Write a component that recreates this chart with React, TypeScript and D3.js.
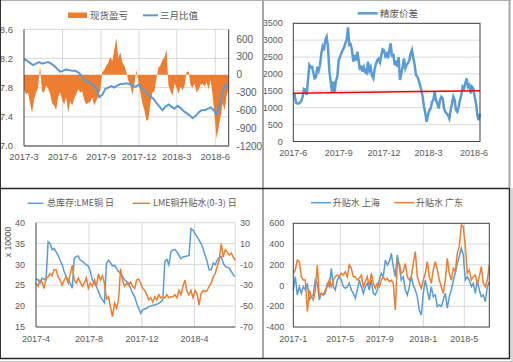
import * as d3 from "d3";

const BLUE = "#5B9BD5";
const ORANGE = "#ED7D31";
const GRID = "#D9D9D9";
const AXIS = "#404040";
const TEXT = "#595959";
const FONT = "'Liberation Sans', 'Noto Sans CJK SC', sans-serif";
const CJK = "'Noto Sans CJK SC', sans-serif";

// ---- top-left: 现货盈亏 / 三月比值
const spotPnl = [
  -250, -330, -300, -480, -640, -420, -300, -220, 150, -280,
  -300, -180, -230, -320, -480, -520, -600, -380, -300, -420,
  -500, -380, -640, -450, -520, -400, -330, -240, -300, -280,
  -420, -500, -470, -460, -380, -520, -440, -360, -260, 40,
  80, 150, 200, 300, 230, 420, 620, 280, 380, 200,
  150, 50, -100, -180, -340, -150, 80, -120, -300, -480,
  -600, -780, -750, -480, -300, -280, -60, 120, 160, 250,
  300, 430, -180, -280, -360, -150, -220, -320, -200, -260,
  -180, 40, 60, -180, -220, -150, -300, -250, -170, -150,
  -200, -130, -250, -80, -350, -700, -1080, -880, -700, -480,
  -600, -350, -230,
];
const ratio3m = [
  8.19, 8.17, 8.14, 8.11, 8.13, 8.15, 8.13, 8.14, 8.15, 8.13,
  8.1, 8.06, 8.02, 8.03, 8.05, 8.04, 8.03, 8.03, 8.01, 7.97,
  7.91, 7.88, 7.86, 7.83, 7.79, 7.67, 7.7, 7.78, 7.8, 7.82,
  7.8, 7.83, 7.85, 7.85, 7.86, 7.85, 7.83, 7.81, 7.84, 7.8,
  7.76, 7.71, 7.68, 7.65, 7.59, 7.54, 7.49, 7.54, 7.57, 7.54,
  7.51, 7.55, 7.52, 7.48, 7.45, 7.42, 7.38, 7.41, 7.46, 7.49,
  7.49, 7.51, 7.53, 7.49, 7.44, 7.56, 7.76, 7.84, 7.79,
];
const p1Dates = [new Date(2017, 2, 1), new Date(2018, 6, 3)];
const p1Ticks = [
  new Date(2017, 2, 1), new Date(2017, 5, 1), new Date(2017, 8, 1),
  new Date(2017, 11, 1), new Date(2018, 2, 1), new Date(2018, 5, 1),
];
const p1LeftTicks = [7.0, 7.4, 7.8, 8.2, 8.6];
const p1RightTicks = [-1200, -900, -600, -300, 0, 300, 600];

// ---- top-right: 精废价差
const scrapSpread = [
  1424, 1380, 1150, 1127, 1127, 1150, 1200, 1325, 1560, 1540,
  1380, 1800, 2264, 2200, 2215, 2050, 1870, 1900, 2215, 2100,
  2260, 2610, 2808, 2700, 3006, 3100, 2800, 2116, 1770, 1473,
  1770, 1473, 1800, 1918, 2412, 2500, 2610, 2700, 2780, 2907,
  3006, 3380, 2857, 2880, 2709, 2363, 2560, 2400, 2659, 2400,
  2116, 2250, 2066, 2200, 2050, 2017, 2363, 2100, 2200, 1950,
  1869, 2150, 2300, 2412, 2450, 2350, 2560, 2728, 2700, 2531,
  2600, 2461, 2700, 2907, 2500, 2600, 2264, 2400, 2215, 2500,
  1820, 2017, 2215, 2461, 2170, 2270, 2320, 2400, 2610, 2709,
  2461, 2270, 1968, 1920, 1820, 1671, 1523, 1325, 1028, 830,
  583, 781, 929, 980, 1177, 1226, 1473, 1226, 1127, 979,
  1226, 1325, 1280, 979, 880, 830, 781, 682, 929, 1127,
  1325, 1226, 929, 880, 1028, 1226, 1374, 1622, 1572, 1721,
  1869, 1622, 1671, 1424, 1622, 1572, 1325, 1127, 781, 633,
  830,
];
const scrapTrend = [1430, 1505];
const p2Dates = [new Date(2017, 5, 1), new Date(2018, 5, 13)];
const p2Ticks = [
  new Date(2017, 5, 1), new Date(2017, 8, 1), new Date(2017, 11, 1),
  new Date(2018, 2, 1), new Date(2018, 5, 1),
];
const p2YTicks = [0, 500, 1000, 1500, 2000, 2500, 3000, 3500];

// ---- bottom-left: 总库存:LME铜 / LME铜升贴水(0-3)
const lmeStock = [
  26.6, 26.3, 25.5, 26.7, 26.5, 26.3, 35.4, 35.0, 33.5, 33.8,
  33.0, 32.2, 31.0, 29.9, 28.3, 27.1, 26.3, 25.5, 24.3, 31.4,
  31.9, 32.0, 31.0, 30.8, 30.3, 29.9, 29.6, 28.3, 26.3, 25.5,
  24.7, 23.5, 22.3, 21.5, 20.8, 30.3, 31.0, 30.4, 29.6, 29.8,
  29.0, 28.3, 27.9, 27.1, 26.3, 25.9, 25.5, 24.3, 23.1, 22.3,
  20.7, 19.5, 18.3, 19.1, 19.3, 19.5, 19.9, 20.0, 20.2, 20.2,
  20.5, 20.7, 21.0, 21.5, 30.7, 31.2, 29.9, 33.0, 33.5, 33.6,
  33.0, 32.2, 31.4, 31.8, 31.9, 32.0, 32.2, 38.6, 38.2, 37.4,
  36.6, 35.8, 35.0, 33.8, 32.2, 30.7, 28.7, 28.7, 30.3, 29.9,
  31.0, 31.7, 31.9, 30.3, 29.5, 29.3, 29.1, 28.3, 27.5, 27.1,
];
const lmeSpread = [
  -28, -31, -25, -27, -33, -23, -22, -19, -21, -15,
  -15, -22, -25, -30, -25, -22, -28, -19, -11, -25,
  -28, -23, -27, -31, -28, -23, -33, -28, -31, -25,
  -31, -19, -25, -21, -28, -43, -41, -51, -60, -47,
  -52, -44, -14, -25, -31, -28, -30, -27, -31, -33,
  -25, -24, -28, -33, -35, -39, -44, -42, -46, -41,
  -44, -39, -42, -41, -42, -39, -42, -41, -41, -39,
  -42, -35, -39, -31, -25, -36, -39, -35, -42, -35,
  -38, -49, -38, -35, -36, -35, -31, -28, -22, -19,
  -12, -6, 10, -3, 4, 2, -1, 1, -3, -6,
];
const p3Dates = [new Date(2017, 3, 1), new Date(2018, 6, 4)];
const p3Ticks = [
  new Date(2017, 3, 1), new Date(2017, 7, 1), new Date(2017, 11, 1), new Date(2018, 3, 1),
];
const p3LeftTicks = [15, 20, 25, 30, 35, 40];
const p3RightTicks = [-70, -50, -30, -10, 10, 30];

// ---- bottom-right: 升贴水 上海 / 广东
const premShanghai = [
  -43, 85, -91, -11, -75, -11, -43, 21, -139, -107,
  -91, 53, 21, -139, -75, -91, -75, 21, -11, 166,
  -11, -43, 53, 85, 53, -11, -27, -11, 21, -43,
  -75, -123, -43, 53, -11, -75, -11, 21, -43, 53,
  -75, -91, -43, 53, 118, 85, 246, 198, 230, 310,
  182, 85, 295, 182, 53, 85, -43, -91, -11, 85,
  5, -43, -107, -236, -284, -75, 53, -43, -139, -11,
  -107, -91, -203, -187, -203, -139, -75, -219, -107, -43,
  53, 118, 214, 279, 359, 295, 53, 85, 53, -11,
  21, -75, 53, -43, -107, -91, -155, -11, 37,
];
const premGuangdong = [
  118, 150, 246, 230, 85, 53, 53, -250, -43, -107,
  -139, -43, 198, -107, -75, -91, -43, -11, 53, -11,
  53, 85, 101, 85, 118, 101, 134, 85, 198, 166,
  85, 85, 53, 69, 101, -11, 37, 85, -11, 118,
  21, -27, 21, -11, 53, 85, 53, 69, 37, 53,
  21, -236, 230, 214, 118, 134, 214, 85, 53, 85,
  214, 327, 85, 21, -27, 53, 118, 230, 85, 21,
  150, 230, 150, 53, -11, -75, 53, 262, 118, 53,
  166, 134, 310, 375, 584, 568, 375, 118, 150, 53,
  85, 101, 21, 85, 182, 21, -11, 53, 198,
];
const p4TickLabels = ["2017-1", "2017-5", "2017-9", "2018-1", "2018-5"];
const p4TickIdx = [0, 23.5, 43.2, 65, 85.5];
const p4YTicks = [-400, -200, 0, 200, 400, 600];

type Pt = { d: Date; v: number };

const fmt = d3.timeFormat("%Y-%-m");

function spread(vals: number[], range: Date[]): Pt[] {
  const a = +range[0];
  const b = +range[1];
  return vals.map((v, i) => ({ d: new Date(a + ((b - a) * i) / (vals.length - 1)), v }));
}

export default function App() {
  // panel 1
  const x1 = d3.scaleTime().domain(p1Dates).range([24, 228.7]);
  const yL1 = d3.scaleLinear().domain([7.0, 8.6]).range([146, 29.3]);
  const yR1 = d3.scaleLinear().domain([-1200, 765]).range([146, 29.3]);
  const spotArea = d3
    .area<Pt>()
    .x((d) => x1(d.d))
    .y0(yR1(0))
    .y1((d) => yR1(d.v))(spread(spotPnl, p1Dates));
  const ratioLine = d3
    .line<Pt>()
    .x((d) => x1(d.d))
    .y((d) => yL1(d.v))(spread(ratio3m, p1Dates));

  // panel 2
  const x2 = d3.scaleTime().domain(p2Dates).range([293.3, 480]);
  const y2 = d3.scaleLinear().domain([0, 3500]).range([141.5, 23.3]);
  const line2 = d3
    .line<Pt>()
    .x((d) => x2(d.d))
    .y((d) => y2(d.v));

  // panel 3
  const x3 = d3.scaleTime().domain(p3Dates).range([36, 235.3]);
  const yL3 = d3.scaleLinear().domain([15, 40]).range([327, 222.7]);
  const yR3 = d3.scaleLinear().domain([-70, 30]).range([327, 222.7]);
  const stockLine = d3
    .line<Pt>()
    .x((d) => x3(d.d))
    .y((d) => yL3(d.v))(spread(lmeStock, p3Dates));
  const spreadLine = d3
    .line<Pt>()
    .x((d) => x3(d.d))
    .y((d) => yR3(d.v))(spread(lmeSpread, p3Dates));

  // panel 4
  const x4 = d3.scaleLinear().domain([0, premShanghai.length - 1]).range([293.3, 489.3]);
  const y4 = d3.scaleLinear().domain([-400, 600]).range([327, 223.3]);
  const line4 = d3
    .line<number>()
    .x((_, i) => x4(i))
    .y((d) => y4(d));

  return (
    <svg
      width={513}
      height={362}
      style={{ position: "absolute", left: 0, top: 0, display: "block", background: "#fff" }}
      fontFamily={FONT}
    >
      <rect width={513} height={362} fill="#fff" />

      {/* ---------- panel 1 ---------- */}
      <g>
        {p1LeftTicks.map((t) => (
          <line key={t} x1={24} x2={228.7} y1={yL1(t)} y2={yL1(t)} stroke={GRID} />
        ))}
        {p1Ticks.slice(1).map((t) => (
          <line key={+t} x1={x1(t)} x2={x1(t)} y1={29.3} y2={146} stroke={GRID} />
        ))}
        <path d={spotArea ?? ""} fill={ORANGE} />
        <path d={ratioLine ?? ""} fill="none" stroke={BLUE} strokeWidth={2} />
        <line x1={24} x2={24} y1={29.3} y2={146} stroke={AXIS} />
        <line x1={228.7} x2={228.7} y1={29.3} y2={146} stroke={AXIS} />
        <line x1={24} x2={228.7} y1={146} y2={146} stroke={AXIS} />
        {p1LeftTicks.map((t) => (
          <text key={t} x={13} y={yL1(t)} dy="0.35em" textAnchor="end" fontSize={9.5} fill={TEXT}>
            {t.toFixed(1)}
          </text>
        ))}
        {p1RightTicks.map((t) => (
          <text key={t} x={236.5} y={yR1(t)} dy="0.35em" fontSize={10} fill={TEXT}>
            {t}
          </text>
        ))}
        {p1Ticks.map((t) => (
          <text key={+t} x={x1(t)} y={160} textAnchor="middle" fontSize={9.5} fill={TEXT}>
            {fmt(t)}
          </text>
        ))}
        <rect x={68} y={12.5} width={19} height={5.5} fill={ORANGE} />
        <text x={90} y={15.3} dy="0.35em" fontSize={9.5} fontFamily={CJK} fill={TEXT}>
          现货盈亏
        </text>
        <line x1={143} x2={158} y1={15.3} y2={15.3} stroke={BLUE} strokeWidth={2} />
        <text x={160} y={15.3} dy="0.35em" fontSize={9.5} fontFamily={CJK} fill={TEXT}>
          三月比值
        </text>
      </g>

      {/* ---------- panel 2 ---------- */}
      <g>
        {p2YTicks.slice(1).map((t) => (
          <line key={t} x1={293.3} x2={480} y1={y2(t)} y2={y2(t)} stroke={GRID} />
        ))}
        <path d={line2(spread(scrapSpread, p2Dates)) ?? ""} fill="none" stroke={BLUE} strokeWidth={2.5} />
        <path d={line2(spread(scrapTrend, p2Dates)) ?? ""} fill="none" stroke="#FF0000" strokeWidth={1.5} />
        <rect x={293.3} y={23.3} width={480 - 293.3} height={141.5 - 23.3} fill="none" stroke={AXIS} />
        {p2YTicks.map((t) => (
          <text key={t} x={282.7} y={y2(t)} dy="0.35em" textAnchor="end" fontSize={9} fill={TEXT}>
            {t}
          </text>
        ))}
        {p2Ticks.map((t) => (
          <text key={+t} x={x2(t)} y={156} textAnchor="middle" fontSize={9} fill={TEXT}>
            {fmt(t)}
          </text>
        ))}
        <line x1={357.7} x2={377.7} y1={13.3} y2={13.3} stroke={BLUE} strokeWidth={2.5} />
        <text x={380} y={13.3} dy="0.35em" fontSize={9.5} fontFamily={CJK} fill={TEXT}>
          精废价差
        </text>
      </g>

      {/* ---------- panel 3 ---------- */}
      <g>
        {p3LeftTicks.slice(1).map((t) => (
          <line key={t} x1={36} x2={235.3} y1={yL3(t)} y2={yL3(t)} stroke={GRID} />
        ))}
        {p3Ticks.slice(1).map((t) => (
          <line key={+t} x1={x3(t)} x2={x3(t)} y1={222.7} y2={327} stroke={GRID} />
        ))}
        <line x1={235.3} x2={235.3} y1={222.7} y2={327} stroke={GRID} />
        <path d={stockLine ?? ""} fill="none" stroke={BLUE} strokeWidth={1.5} />
        <path d={spreadLine ?? ""} fill="none" stroke={ORANGE} strokeWidth={1.5} />
        <line x1={36} x2={36} y1={222.7} y2={327} stroke={AXIS} />
        <line x1={36} x2={235.3} y1={327} y2={327} stroke={AXIS} />
        {p3LeftTicks.map((t) => (
          <text key={t} x={25} y={yL3(t)} dy="0.35em" textAnchor="end" fontSize={9} fill={TEXT}>
            {t}
          </text>
        ))}
        {p3RightTicks.map((t) => (
          <text key={t} x={240} y={yR3(t)} dy="0.35em" fontSize={9} fill={TEXT}>
            {t}
          </text>
        ))}
        {p3Ticks.map((t) => (
          <text key={+t} x={x3(t)} y={341.5} textAnchor="middle" fontSize={9} fill={TEXT}>
            {fmt(t)}
          </text>
        ))}
        <text
          transform="translate(8,242) rotate(-90)"
          dy="0.35em"
          textAnchor="middle"
          fontSize={8.5}
          fill={TEXT}
        >
          x 10000
        </text>
        <line x1={27.7} x2={43.3} y1={203.3} y2={203.3} stroke={BLUE} strokeWidth={1.5} />
        <text x={47} y={203.3} dy="0.35em" fontSize={9} fontFamily={CJK} fill={TEXT}>
          总库存:LME铜 日
        </text>
        <line x1={132.7} x2={150} y1={203.3} y2={203.3} stroke={ORANGE} strokeWidth={1.5} />
        <text x={153} y={203.3} dy="0.35em" fontSize={9} fontFamily={CJK} fill={TEXT}>
          LME铜升贴水(0-3) 日
        </text>
      </g>

      {/* ---------- panel 4 ---------- */}
      <g>
        {p4YTicks.slice(1, -1).map((t) => (
          <line key={t} x1={293.3} x2={489.3} y1={y4(t)} y2={y4(t)} stroke={GRID} />
        ))}
        {p4TickIdx.slice(1).map((t) => (
          <line key={t} x1={x4(t)} x2={x4(t)} y1={223.3} y2={327} stroke={GRID} />
        ))}
        <path d={line4(premShanghai) ?? ""} fill="none" stroke={BLUE} strokeWidth={1.5} />
        <path d={line4(premGuangdong) ?? ""} fill="none" stroke={ORANGE} strokeWidth={1.5} />
        <rect x={293.3} y={223.3} width={489.3 - 293.3} height={327 - 223.3} fill="none" stroke={AXIS} />
        {p4YTicks.map((t) => (
          <text key={t} x={284.3} y={y4(t)} dy="0.35em" textAnchor="end" fontSize={9} fill={TEXT}>
            {t}
          </text>
        ))}
        {p4TickIdx.map((t, i) => (
          <text key={t} x={x4(t)} y={341.5} textAnchor="middle" fontSize={9} fill={TEXT}>
            {p4TickLabels[i]}
          </text>
        ))}
        <line x1={311} x2={331} y1={202.7} y2={202.7} stroke={BLUE} strokeWidth={1.5} />
        <text x={332.7} y={202.7} dy="0.35em" fontSize={9} fontFamily={CJK} fill={TEXT}>
          升贴水 上海
        </text>
        <line x1={394.3} x2={414.3} y1={202.7} y2={202.7} stroke={ORANGE} strokeWidth={1.5} />
        <text x={416} y={202.7} dy="0.35em" fontSize={9} fontFamily={CJK} fill={TEXT}>
          升贴水 广东
        </text>
      </g>

      {/* ---------- frames ---------- */}
      <line x1={0} x2={511} y1={0.5} y2={0.5} stroke="#B0B0B0" />
      <line x1={0.5} x2={0.5} y1={0} y2={358.5} stroke="#333" />
      <line x1={263} x2={263} y1={0} y2={358} stroke="#A6A6A6" strokeWidth={2} />
      <line x1={0} x2={510} y1={188.5} y2={188.5} stroke="#262626" strokeWidth={1.5} />
      <line x1={509.5} x2={509.5} y1={0} y2={188} stroke="#A6A6A6" strokeWidth={2} />
      <line x1={509.5} x2={509.5} y1={188} y2={359} stroke="#262626" strokeWidth={1.5} />
      <line x1={0} x2={510} y1={358.5} y2={358.5} stroke="#262626" strokeWidth={1.5} />
      <line x1={512} x2={512} y1={188} y2={362} stroke="#B0B0B0" />
      <line x1={0} x2={513} y1={361.5} y2={361.5} stroke="#C0C0C0" />
    </svg>
  );
}
